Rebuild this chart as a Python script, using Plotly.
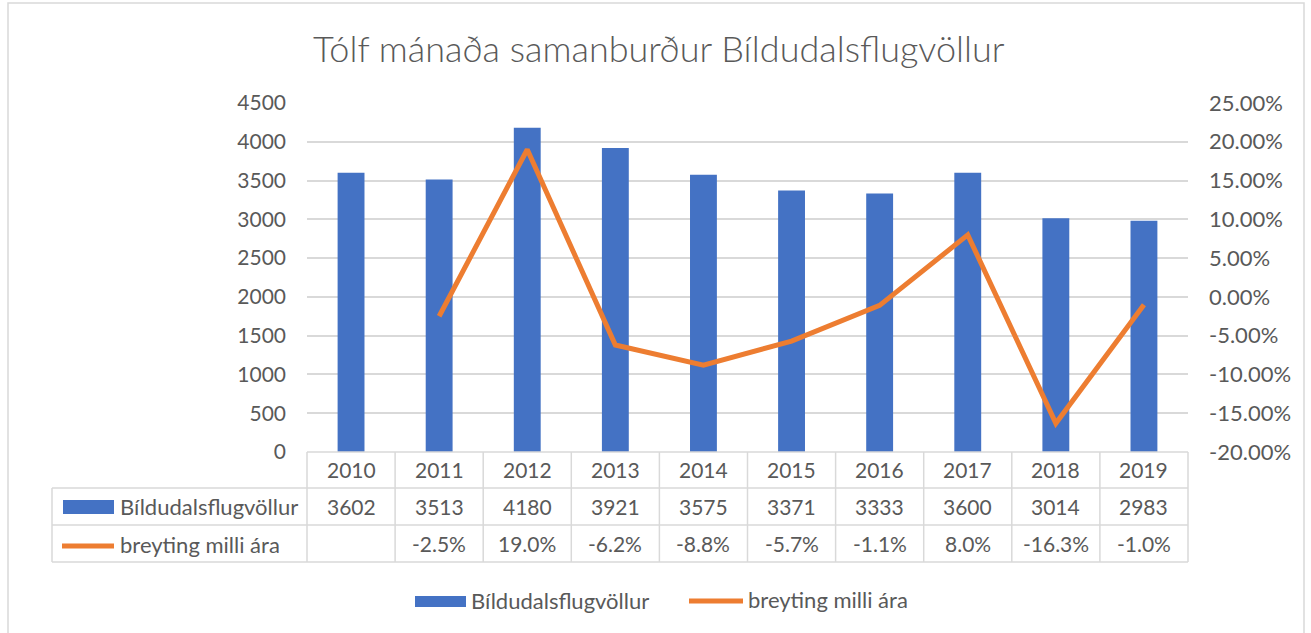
import plotly.graph_objects as go

years = ["2010", "2011", "2012", "2013", "2014", "2015", "2016", "2017", "2018", "2019"]
passengers = [3602, 3513, 4180, 3921, 3575, 3371, 3333, 3600, 3014, 2983]
change_pct = [None, -2.5, 19.0, -6.2, -8.8, -5.7, -1.1, 8.0, -16.3, -1.0]
change_labels = ["", "-2.5%", "19.0%", "-6.2%", "-8.8%", "-5.7%", "-1.1%", "8.0%", "-16.3%", "-1.0%"]
right_tickvals = [-0.20, -0.15, -0.10, -0.05, 0.0, 0.05, 0.10, 0.15, 0.20, 0.25]
right_ticktext = ["-20.00%", "-15.00%", "-10.00%", "-5.00%", "0.00%", "5.00%",
                  "10.00%", "15.00%", "20.00%", "25.00%"]
bar_name = "Bíldudalsflugvöllur"
line_name = "breyting milli ára"
title_text = "Tólf mánaða samanburður Bíldudalsflugvöllur"

W, H = 1311, 633
L, R, T, B = 307, 1188, 103, 452
PW, PH = R - L, B - T

def px(x):
    return (x - L) / PW

def py(y):
    return (B - y) / PH

BLUE = "#4472C4"
ORANGE = "#ED7D31"
GRID = "#D9D9D9"
TXT = "#595959"
FONT = "Lato"

fig = go.Figure()
fig.add_trace(go.Bar(x=years, y=passengers, name=bar_name, marker_color=BLUE,
                     marker_line_width=0, showlegend=False))
fig.add_trace(go.Scatter(x=years, y=[None if v is None else v / 100 for v in change_pct],
                         name=line_name, mode="lines", yaxis="y2",
                         line=dict(color=ORANGE, width=5), showlegend=False,
                         connectgaps=False))

shapes = []
annotations = []

def hline(x0, x1, y):
    shapes.append(dict(type="line", xref="paper", yref="paper", x0=px(x0), x1=px(x1),
                       y0=py(y), y1=py(y), line=dict(color=GRID, width=1.5)))

def vline(x, y0, y1):
    shapes.append(dict(type="line", xref="paper", yref="paper", x0=px(x), x1=px(x),
                       y0=py(y0), y1=py(y1), line=dict(color=GRID, width=1.5)))

# table grid
ROW0, ROW1, ROW2, ROW3 = 452, 488, 525, 562
TL = 52
hline(L, R, ROW0)
for yy in (ROW1, ROW2, ROW3):
    hline(TL, R, yy)
vline(TL, ROW1, ROW3)
n = len(years)
for k in range(n + 1):
    vline(L + PW * k / n, ROW0, ROW3)

def ann(text, x, y, xref="paper", xanchor="center", size=21, weight=None):
    f = dict(family=FONT, size=size, color=TXT)
    if weight:
        f["weight"] = weight
    annotations.append(dict(text=text, x=x, y=y, xref=xref, yref="paper",
                            xanchor=xanchor, yanchor="middle", showarrow=False,
                            font=f))

for i, yr in enumerate(years):
    ann(yr, i, py((ROW0 + ROW1) / 2), xref="x")
    ann(str(passengers[i]), i, py((ROW1 + ROW2) / 2), xref="x")
    if change_labels[i]:
        ann(change_labels[i], i, py((ROW2 + ROW3) / 2), xref="x")

# table legend keys
shapes.append(dict(type="rect", xref="paper", yref="paper", x0=px(63), x1=px(114),
                   y0=py(500), y1=py(514), fillcolor=BLUE, line=dict(width=0)))
ann(bar_name, px(118), py(507), xanchor="left", size=22)
shapes.append(dict(type="line", xref="paper", yref="paper", x0=px(62), x1=px(114),
                   y0=py(546), y1=py(546), line=dict(color=ORANGE, width=5)))
ann(line_name, px(118), py(544), xanchor="left", size=22)

# bottom legend
shapes.append(dict(type="rect", xref="paper", yref="paper", x0=px(415), x1=px(466),
                   y0=py(596), y1=py(607), fillcolor=BLUE, line=dict(width=0)))
ann(bar_name, px(469), py(600), xanchor="left", size=22)
shapes.append(dict(type="line", xref="paper", yref="paper", x0=px(689), x1=px(743),
                   y0=py(601), y1=py(601), line=dict(color=ORANGE, width=5)))
ann(line_name, px(746), py(599), xanchor="left", size=22)

# title
ann(title_text, px(659), py(48), size=36, weight=300)

# outer border
shapes.append(dict(type="rect", xref="paper", yref="paper", x0=px(8), x1=px(1304),
                   y0=py(3), y1=py(640), line=dict(color=GRID, width=1.5),
                   fillcolor="rgba(0,0,0,0)", layer="below"))

fig.update_layout(
    width=W, height=H,
    margin=dict(l=L, r=W - R, t=T, b=H - B, pad=0),
    paper_bgcolor="white", plot_bgcolor="white",
    bargap=0.695,
    font=dict(family=FONT, size=21, color=TXT),
    xaxis=dict(type="category", categoryorder="array", categoryarray=years,
               range=[-0.5, len(years) - 0.5], showticklabels=False, showgrid=False,
               zeroline=False, showline=False, ticks=""),
    yaxis=dict(range=[0, 4500], dtick=500, showgrid=True, gridcolor=GRID, gridwidth=1.5,
               zeroline=False, showline=False, ticks="", ticklabelstandoff=20,
               tickfont=dict(family=FONT, size=21, color=TXT)),
    yaxis2=dict(range=[-0.20, 0.25], tickmode="array", tickvals=right_tickvals,
                ticktext=right_ticktext, overlaying="y",
                side="right", showgrid=False, zeroline=False, showline=False,
                ticks="", ticklabelstandoff=20,
                tickfont=dict(family=FONT, size=22, color=TXT)),
    shapes=shapes,
    annotations=annotations,
)

fig.write_html("out.html", config={"displayModeBar": False},
               post_script="document.body.style.margin='0';")
